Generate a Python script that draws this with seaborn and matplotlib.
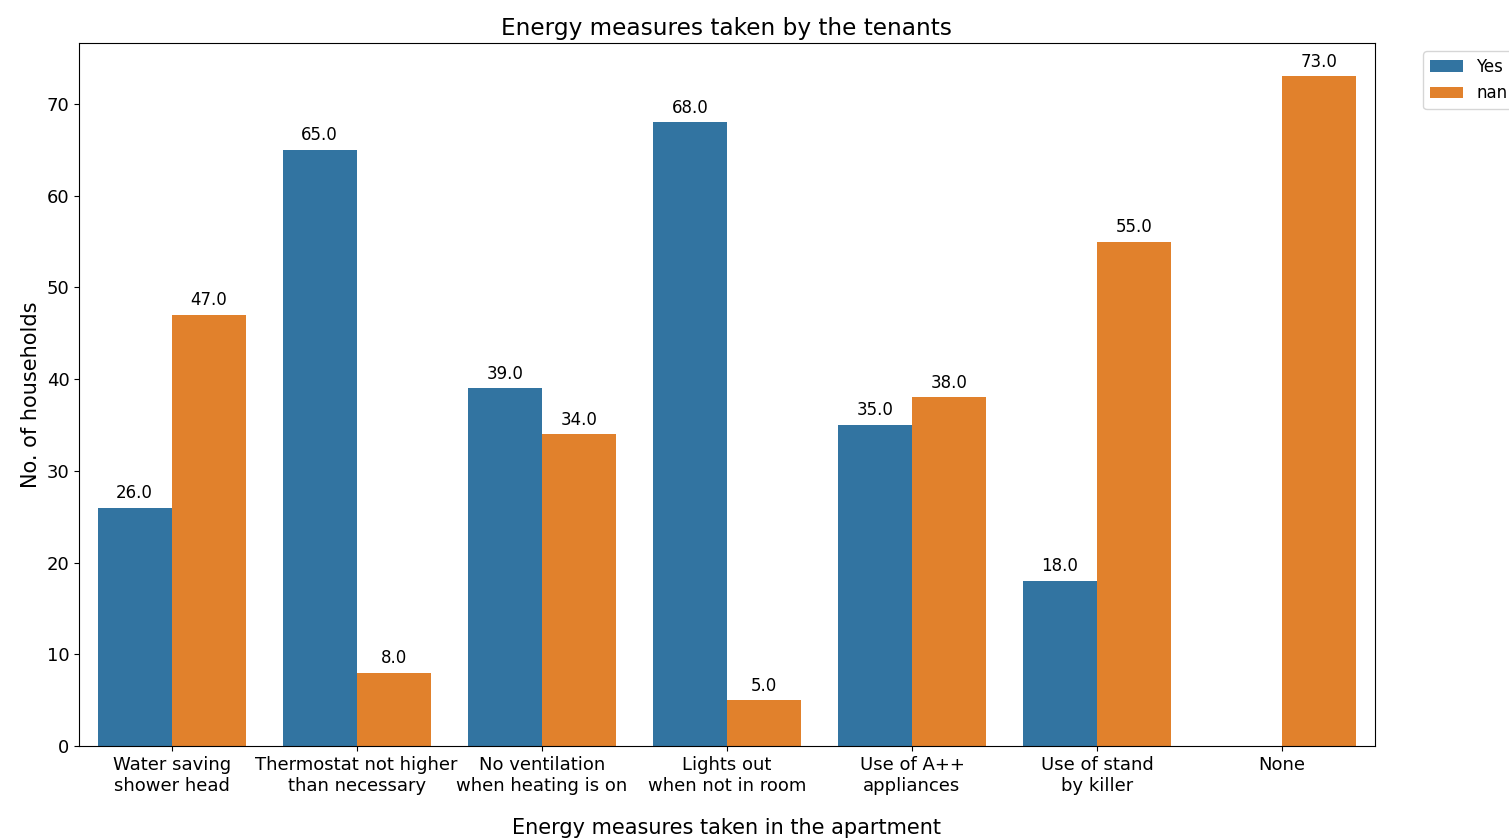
import numpy as np
import pandas as pd
import matplotlib
matplotlib.use("Agg")
import matplotlib.pyplot as plt
import seaborn as sns

# Datos
medidas = ["Water saving\nshower head", "Thermostat not higher\nthan necessary",
           "No ventilation\nwhen heating is on", "Lights out\nwhen not in room",
           "Use of A++\nappliances", "Use of stand\nby killer", "None"]
valores_yes = [26, 65, 39, 68, 35, 18, np.nan]
valores_nan = [47, 8, 34, 5, 38, 55, 73]
respuestas = ["Yes", "nan"]

df = pd.DataFrame({
    "medida": medidas * 2,
    "respuesta": [respuestas[0]] * len(medidas) + [respuestas[1]] * len(medidas),
    "hogares": valores_yes + valores_nan,
})

fig, ax = plt.subplots(figsize=(15.09, 8.38), dpi=100)
fig.subplots_adjust(left=0.0524, right=0.911, top=0.9487, bottom=0.1098)

sns.barplot(data=df, x="medida", y="hogares", hue="respuesta",
            hue_order=respuestas, order=medidas, ax=ax, errorbar=None)

# Etiquetas sobre las barras
for p in ax.patches:
    h = p.get_height()
    if np.isnan(h) or p.get_width() == 0:
        continue
    ax.annotate(f"{h:.1f}", (p.get_x() + p.get_width() / 2, h),
                ha="center", va="bottom", xytext=(0, 4),
                textcoords="offset points", fontsize=12)

ax.set_title("Energy measures taken by the tenants", fontsize=16.7)
ax.set_xlabel("Energy measures taken in the apartment", fontsize=15, labelpad=17)
ax.set_ylabel("No. of households", fontsize=15)
ax.tick_params(axis="both", labelsize=13)
ax.set_ylim(0, 76.65)
ax.legend(loc="upper left", bbox_to_anchor=(1.031, 1.0), fontsize=12)

fig.savefig("out.png", dpi=100)
